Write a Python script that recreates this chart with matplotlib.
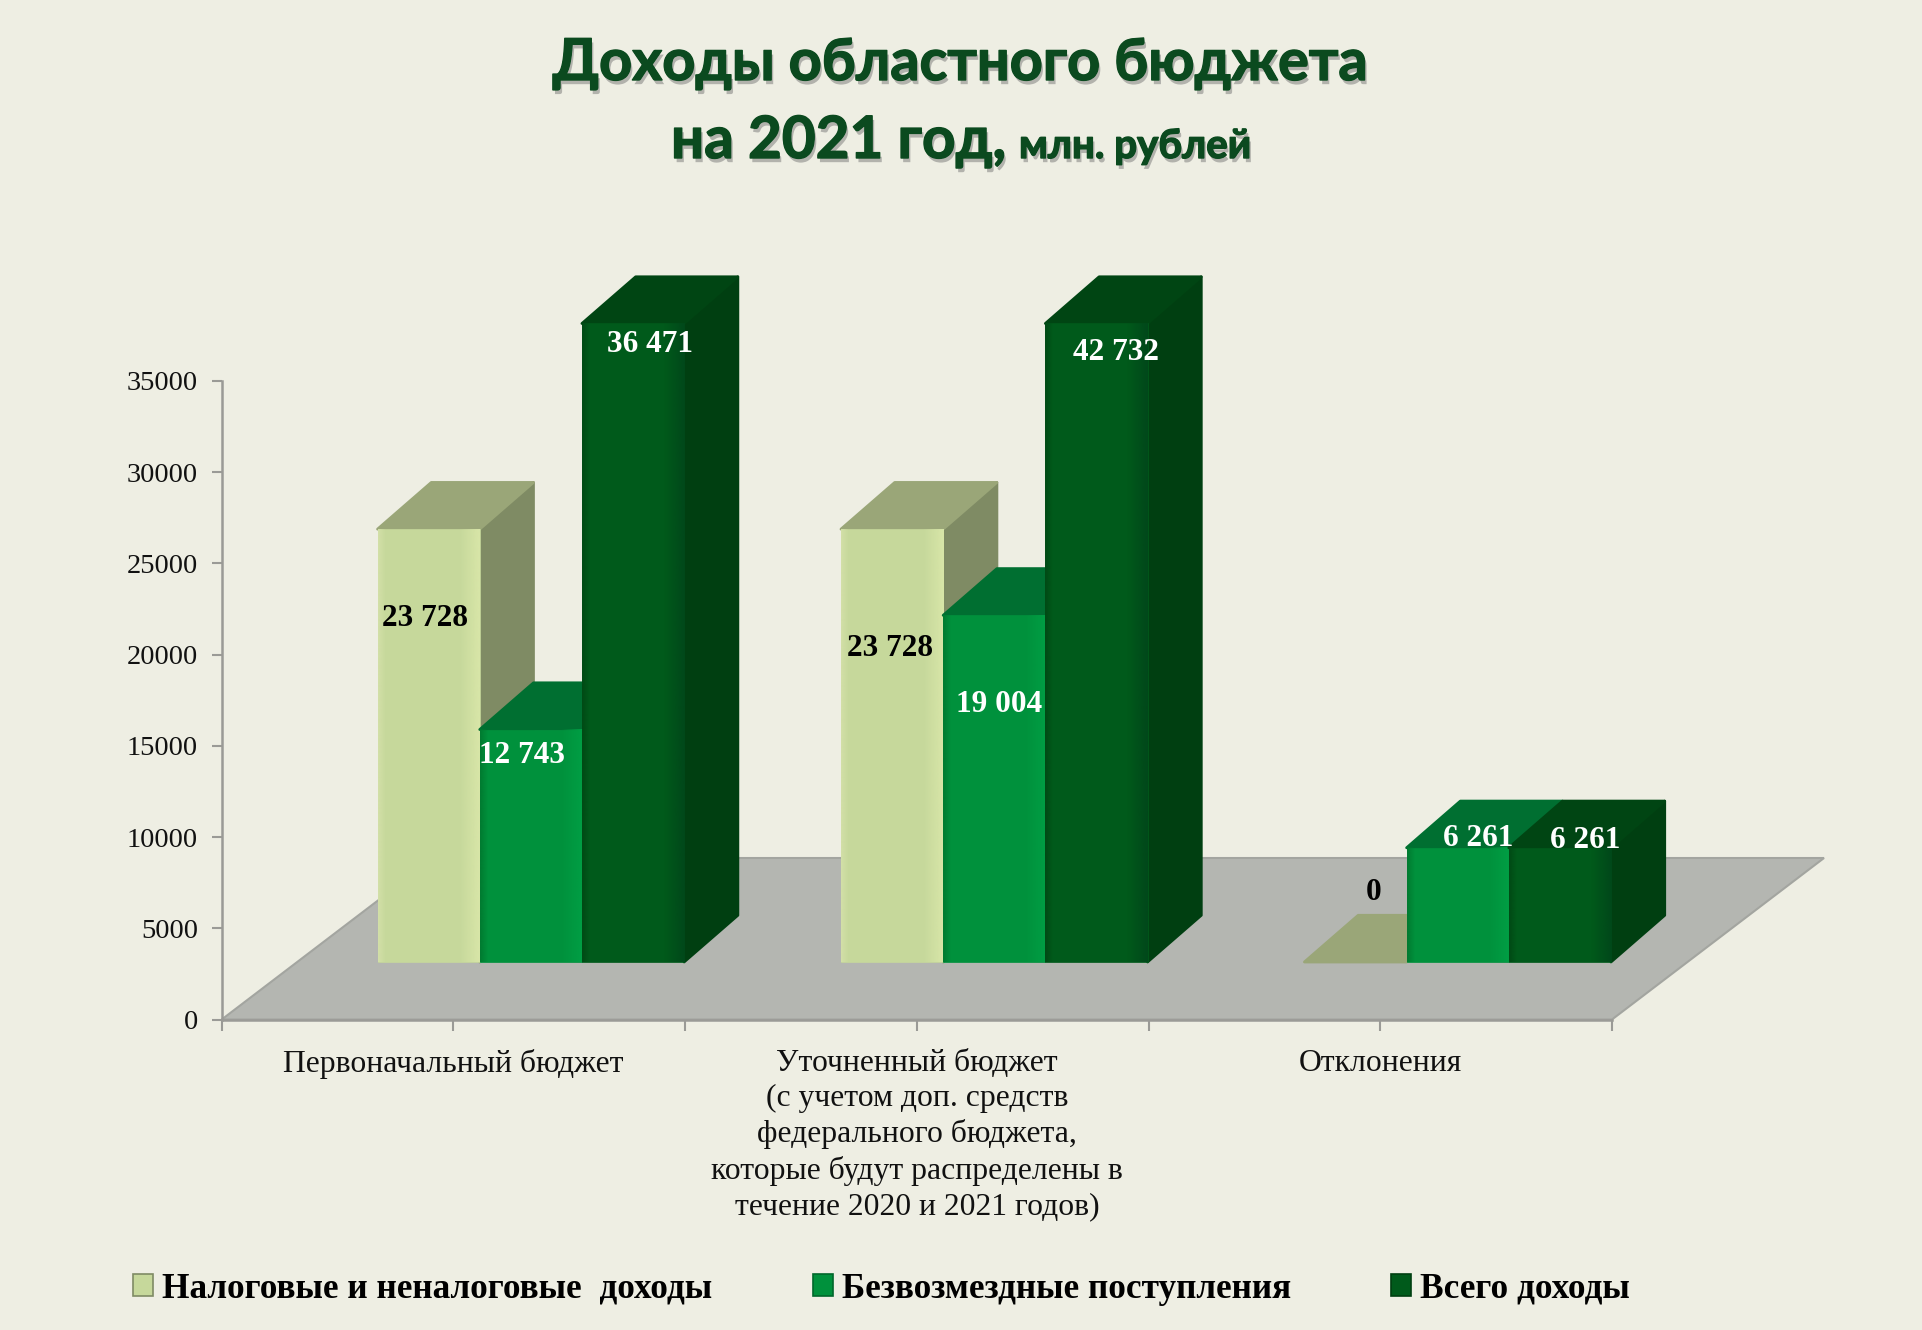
import numpy as np
import matplotlib
matplotlib.use("Agg")
import matplotlib.pyplot as plt
from matplotlib.patches import Patch, Polygon
from matplotlib.colors import to_rgb
import matplotlib.patheffects as pe

# ---------- data ----------
categories = ["Первоначальный бюджет",
              "Уточненный бюджет\n(с учетом доп. средств\nфедерального бюджета,\nкоторые будут распределены в\nтечение 2020 и 2021 годов)",
              "Отклонения"]
series_names = ["Налоговые и неналоговые  доходы", "Безвозмездные поступления", "Всего доходы"]
tax_income = [23728, 23728, 0]
grants = [12743, 19004, 6261]
total_income = [36471, 42732, 6261]
value_labels = [["23 728", "23 728", "0"],
                ["12 743", "19 004", "6 261"],
                ["36 471", "42 732", "6 261"]]
yticks = [0, 5000, 10000, 15000, 20000, 25000, 30000, 35000]

# ---------- layout / style ----------
W, H = 1922, 1330
BG = "#eeeee3"
AX_L, AX_R, AX_B, AX_T = 221.7, 1612.0, 1019.5, 381.0
Y_MAX = 35000
BAR_W = 0.2205
FRONT_DX, FRONT_DY = 0.167, 3152     # floor front -> bar front
BAR_DX, BAR_DY = 0.1160, 2560        # bar depth
FLOOR_DX, FLOOR_DY = 0.4575, 8852    # floor depth
FRONT = ["#c6d89b", "#00913c", "#005a1b"]
SIDE = ["#7f8b64", "#00672b", "#003f11"]
TOP = ["#9aa678", "#006f31", "#004513"]
# highlight colours for the left edge, right edge of each face
EDGE_L = ["#d3e0a8", "#007a30", "#004a15"]
EDGE_R = ["#d8e6a8", "#009e44", "#00481a"]
LABEL_COL = ["black", "white", "white"]
# label offset from the front-top centre of the bar, in reference pixels
label_offsets = [[(-4, -89), (-2, -119), (18, 69)],
                 [(-9, -26), (5, -89), (21, 9)],
                 [(17, -21), (20, -29), (25, 7)]]

plt.rcParams["font.family"] = ["Liberation Serif", "DejaVu Serif"]
fig = plt.figure(figsize=(W / 100, H / 100), dpi=100, facecolor=BG)
ax = fig.add_axes([AX_L / W, 1 - AX_B / H, (AX_R - AX_L) / W, (AX_B - AX_T) / H])
ax.patch.set_visible(False)

def edge_fade(x0, x1, y0, y1, col, left, z):
    """Soft bevel along a bar edge."""
    r, g, b = to_rgb(col)
    n = 32
    alpha = np.linspace(1, 0, n) if left else np.linspace(0, 1, n)
    img = np.zeros((1, n, 4))
    img[..., 0], img[..., 1], img[..., 2], img[..., 3] = r, g, b, alpha
    ax.imshow(img, extent=(x0, x1, y0, y1), aspect="auto", zorder=z,
              interpolation="bilinear", clip_on=False)

# floor
ax.add_patch(Polygon([(0, 0), (3, 0), (3 + FLOOR_DX, FLOOR_DY), (FLOOR_DX, FLOOR_DY)],
                     closed=True, fc="#b4b6b1", ec="#a3a5a0", lw=1.5, zorder=1, clip_on=False))

all_series = [tax_income, grants, total_income]
z = 2.0
for c in range(len(categories)):
    group_left = c + 0.5 + FRONT_DX - 1.5 * BAR_W
    for s, vals in enumerate(all_series):
        v = min(vals[c], Y_MAX)                   # the chart cuts bars at the axis maximum
        x0 = group_left + s * BAR_W
        x1 = x0 + BAR_W
        base = FRONT_DY
        top = base + v
        if s == 2 or v > 0 and all_series[min(s + 1, 2)][c] < vals[c]:
            ax.add_patch(Polygon([(x1, base), (x1 + BAR_DX, base + BAR_DY),
                                  (x1 + BAR_DX, top + BAR_DY), (x1, top)],
                                 closed=True, fc=SIDE[s], ec=SIDE[s], lw=2, joinstyle="round",
                                 zorder=z, clip_on=False))
        ax.add_patch(Polygon([(x0, top), (x1, top), (x1 + BAR_DX, top + BAR_DY),
                              (x0 + BAR_DX, top + BAR_DY)],
                             closed=True, fc=TOP[s], ec=TOP[s], lw=2, joinstyle="round",
                             zorder=z + 0.1, clip_on=False))
        if v > 0:
            ax.bar(x0 + BAR_W / 2, v, BAR_W, bottom=base, color=FRONT[s],
                   edgecolor=FRONT[s], linewidth=0.5, zorder=z + 0.2, clip_on=False)
            edge_fade(x0, x0 + BAR_W * 0.07, base, top, EDGE_L[s], True, z + 0.3)
            edge_fade(x1 - BAR_W * 0.2, x1, base, top, EDGE_R[s], False, z + 0.3)
        z += 1

# value labels
for s, vals in enumerate(all_series):
    for c, val in enumerate(vals):
        group_left = c + 0.5 + FRONT_DX - 1.5 * BAR_W
        xc = group_left + (s + 0.5) * BAR_W
        yt = FRONT_DY + min(val, Y_MAX)
        off = label_offsets[s][c]
        ax.annotate(value_labels[s][c], (xc, yt), xytext=off, textcoords="offset pixels",
                    ha="center", va="center", fontsize=22.5, fontweight="bold",
                    color=LABEL_COL[s], zorder=50, annotation_clip=False)

# axes
ax.set_xlim(0, 3)
ax.set_ylim(0, Y_MAX)
for sp in ["top", "right"]:
    ax.spines[sp].set_visible(False)
for sp in ["left", "bottom"]:
    ax.spines[sp].set_color("#9a9a96")
    ax.spines[sp].set_linewidth(1.8)
    ax.spines[sp].set_zorder(1.5)
ax.set_yticks(yticks)
ax.set_yticklabels([str(t) for t in yticks], fontsize=20.5, color="#111111")
ax.set_xticks([0, 1, 2, 3])
ax.set_xticklabels([])
ax.set_xticks([0.5, 1.5, 2.5], minor=True)
ax.set_xticklabels(categories, minor=True, fontsize=22.8, color="#111111", linespacing=1.28)
ax.tick_params(axis="y", length=7, width=1.5, color="#9a9a96", pad=10)
ax.tick_params(axis="x", which="major", length=8, width=1.5, color="#9a9a96")
ax.tick_params(axis="x", which="minor", length=8, width=1.5, color="#9a9a96", pad=13)

# title
def px(x, y):
    return x / W, 1 - y / H
effects = [pe.withSimplePatchShadow(offset=(1.5, -3), shadow_rgbFace="#777777", alpha=0.5),
           pe.Stroke(linewidth=1.0, foreground="#0b4a1f"), pe.Normal()]
title_kw = dict(family="Lato", fontweight="bold", color="#0b4a1f", path_effects=effects)
fig.text(*px(960, 80), "Доходы областного бюджета", ha="center", va="baseline", fontsize=41.5, **title_kw)
fig.text(*px(671, 158), "на 2021 год,", ha="left", va="baseline", fontsize=42, **title_kw)
fig.text(*px(1019, 158), "млн. рублей", ha="left", va="baseline", fontsize=29, **title_kw)

# legend
handles = [Patch(fc=FRONT[i], ec=SIDE[i], lw=1.2, label=series_names[i]) for i in range(3)]
fig.legend(handles=handles, loc="center left", bbox_to_anchor=(133 / W, 1 - 1289 / H), ncol=3,
           frameon=False, borderpad=0, borderaxespad=0,
           prop={"family": "Liberation Serif", "weight": "bold", "size": 25.4},
           handlelength=0.57, handleheight=0.57, handletextpad=0.25, columnspacing=2.85)

fig.savefig("out.png", dpi=100, facecolor=BG)
